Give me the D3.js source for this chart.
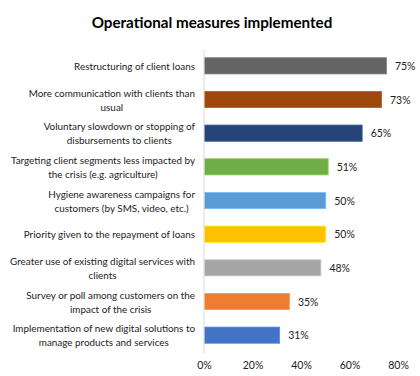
<!DOCTYPE html>
<html><head><meta charset="utf-8">
<script src="https://cdn.jsdelivr.net/npm/d3@7"></script>
<style>body{margin:0;background:#fff}</style>
</head><body>
<svg id="c" width="420" height="376"></svg>
<script>
const categories = [
  ["Restructuring of client loans"],
  ["More communication with clients than", "usual"],
  ["Voluntary slowdown or stopping of", "disbursements to clients"],
  ["Targeting client segments less impacted by", "the crisis (e.g. agriculture)"],
  ["Hygiene awareness campaigns for", "customers (by SMS, video, etc.)"],
  ["Priority given to the repayment of loans"],
  ["Greater use of existing digital services with", "clients"],
  ["Survey or poll among customers on the", "impact of the crisis"],
  ["Implementation of new digital solutions to", "manage products and services"]
];
const values = [75, 73, 65, 51, 50, 50, 48, 35, 31];
const colors = ["#646464", "#9E480E", "#264478", "#70AD47", "#5B9BD5", "#FFC000", "#A5A5A5", "#ED7D31", "#4472C4"];
const tickValues = [0, 20, 40, 60, 80];

const svg = d3.select("#c");
const font = "Lato, 'Open Sans', sans-serif";
const x = d3.scaleLinear().domain([0, 80]).range([204, 398]);
const y = d3.scaleBand().domain(d3.range(values.length)).range([49, 352]).paddingInner(0.52).paddingOuter(0.26);

svg.append("text").attr("x", 212).attr("y", 28).attr("text-anchor", "middle")
  .attr("font-family", font).attr("font-weight", "bold").attr("font-size", 15.2).attr("fill", "#000")
  .text("Operational measures implemented");

svg.selectAll("rect.bar").data(values).join("rect").attr("class", "bar")
  .attr("x", x(0) + 0.5).attr("y", (d, i) => y(i))
  .attr("width", d => x(d) - x(0)).attr("height", y.bandwidth())
  .attr("fill", (d, i) => colors[i])
  .attr("stroke", (d, i) => d3.color(colors[i]).brighter(0.6)).attr("stroke-width", 0.8);

svg.append("line").attr("x1", x(0)).attr("x2", x(0)).attr("y1", 50).attr("y2", 353)
  .attr("stroke", "#D9D9D9").attr("stroke-width", 1);

const lab = svg.selectAll("text.cat").data(categories).join("text").attr("class", "cat")
  .attr("font-family", font).attr("font-size", 9.9).attr("fill", "#222").attr("text-anchor", "middle");
lab.each(function (lines, i) {
  const cy = y(i) + y.bandwidth() / 2;
  const t = d3.select(this);
  const n = lines.length;
  lines.forEach((s, j) => {
    t.append("tspan").attr("x", 120).attr("y", cy + (j - (n - 1) / 2) * 14 + 4).text(s);
  });
});
lab.each(function () {
  const t = d3.select(this);
  let maxW = 0;
  t.selectAll("tspan").each(function () { maxW = Math.max(maxW, this.getComputedTextLength()); });
  t.selectAll("tspan").attr("x", 195 - maxW / 2);
});

svg.selectAll("text.val").data(values).join("text").attr("class", "val")
  .attr("x", d => x(d) + 9).attr("y", (d, i) => y(i) + y.bandwidth() / 2 + 4)
  .attr("font-family", font).attr("font-size", 10.5).attr("fill", "#222")
  .text(d => d + "%");

const ax = svg.append("g").attr("transform", "translate(0,353)")
  .call(d3.axisBottom(x).tickValues(tickValues).tickFormat(d => d + "%").tickSize(0).tickPadding(9));
ax.select(".domain").remove();
ax.selectAll("text").attr("font-family", font).attr("font-size", 10.5).attr("fill", "#222");
</script>
</body></html>
